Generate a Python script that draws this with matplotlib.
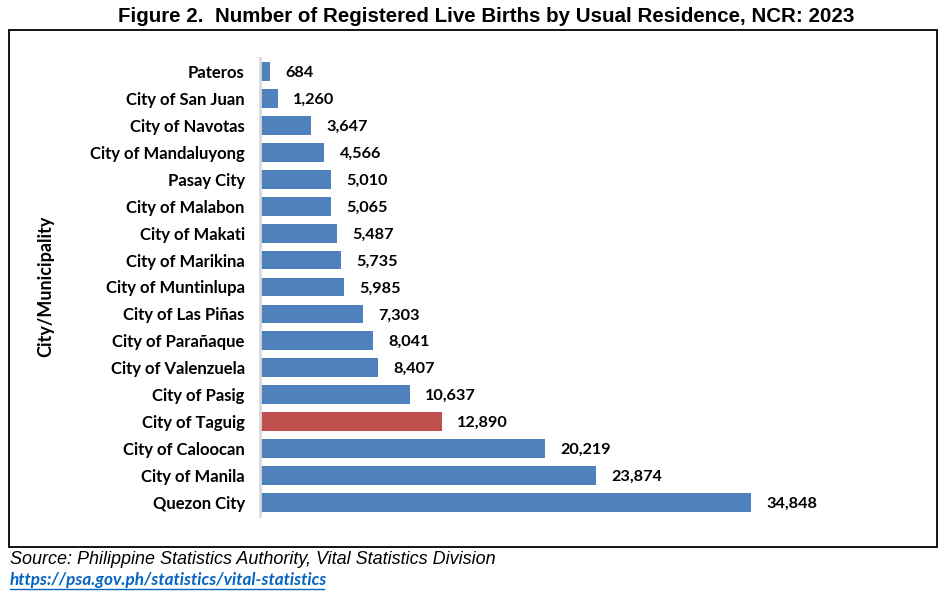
import matplotlib
matplotlib.use("Agg")
import matplotlib.pyplot as plt
from matplotlib.patches import Rectangle
from matplotlib import font_manager

categories = ["Quezon City", "City of Manila", "City of Caloocan", "City of Taguig",
              "City of Pasig", "City of Valenzuela", "City of Parañaque", "City of Las Piñas",
              "City of Muntinlupa", "City of Marikina", "City of Makati", "City of Malabon",
              "Pasay City", "City of Mandaluyong", "City of Navotas", "City of San Juan", "Pateros"]
values = [34848, 23874, 20219, 12890, 10637, 8407, 8041, 7303, 5985, 5735, 5487,
          5065, 5010, 4566, 3647, 1260, 684]
highlight = "City of Taguig"

title = "Figure 2.  Number of Registered Live Births by Usual Residence, NCR: 2023"
ylabel = "City/Municipality"
source = "Source: Philippine Statistics Authority, Vital Statistics Division"
link = "https://psa.gov.ph/statistics/vital-statistics"

available = {f.name for f in font_manager.fontManager.ttflist}
title_font = "Liberation Sans Narrow" if "Liberation Sans Narrow" in available else "Liberation Sans"
lab_font = "Lato"

fig = plt.figure(figsize=(9.48, 5.98), dpi=100)
W, H = 948, 598

# frame
fig.patches.append(Rectangle((9 / W, 1 - 547 / H), (937 - 9) / W, (547 - 30) / H,
                             transform=fig.transFigure, fill=False, edgecolor="black",
                             linewidth=1.3, zorder=0))

ax = fig.add_axes([260 / W, 1 - 516 / H, 660 / W, (516 - 58) / H])
colors = ["#C0504D" if c == highlight else "#4F81BD" for c in categories]
y = range(len(categories))
ax.barh(y, values, height=0.7, color=colors, zorder=2)
ax.set_ylim(-0.5, len(categories) - 0.5)
ax.set_xlim(0, 660 / (491 / 34848))
ax.set_yticks(list(y))
ax.set_yticklabels(categories, fontfamily=lab_font, fontweight="bold", fontsize=12)
ax.tick_params(axis="y", length=0, pad=11)
ax.set_xticks([])
for s in ["top", "right", "bottom"]:
    ax.spines[s].set_visible(False)
ax.spines["left"].set_color("#d9d9d9")
ax.spines["left"].set_linewidth(2)

for i, v in enumerate(values):
    ax.annotate(f"{v:,}", (v, i), xytext=(11, -1), textcoords="offset points",
                ha="left", va="center", fontfamily=lab_font, fontweight="bold", fontsize=11.7)

fig.text(46 / W, 1 - 286 / H, ylabel, rotation=90, ha="center", va="center",
         fontfamily=lab_font, fontweight="bold", fontsize=13)

fig.text(486 / W, 1 - 16 / H, title, ha="center", va="center",
         fontfamily=title_font, fontweight="bold", fontsize=14.8)

fig.text(10 / W, 1 - 560 / H, source, ha="left", va="center",
         fontfamily="Liberation Sans", style="italic", fontsize=13)
fig.text(10 / W, 1 - 580 / H, link, ha="left", va="center", color="#0563C1",
         fontfamily=lab_font, style="italic", fontweight="bold", fontsize=12.3)
# underline for link
fig.lines.append(plt.Line2D([10 / W, 324 / W], [1 - 589 / H, 1 - 589 / H],
                            transform=fig.transFigure, color="#0563C1", linewidth=1))

fig.savefig("out.png", dpi=100)
